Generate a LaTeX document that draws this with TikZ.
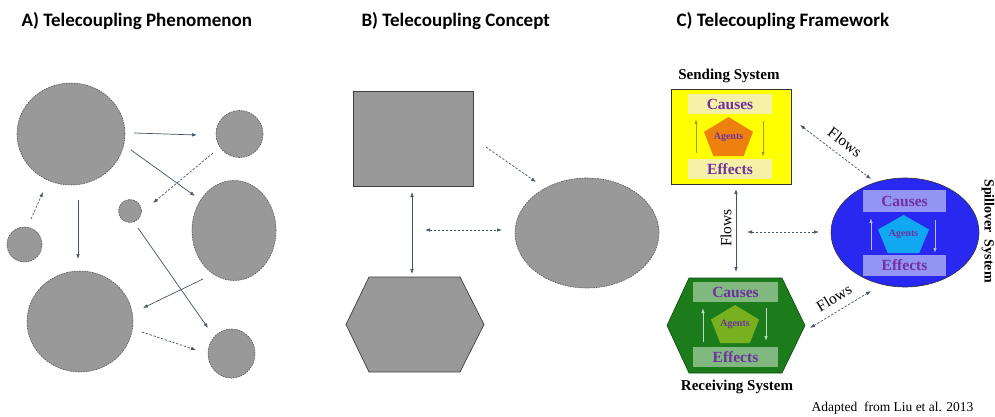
\documentclass[tikz,border=0pt]{standalone}
\usepackage{fontspec}
\setmainfont{Liberation Serif}
\newfontfamily\titlefont{Carlito}
\usetikzlibrary{arrows.meta,shapes.geometric}

\definecolor{blobgray}{HTML}{999999}
\definecolor{blobedge}{HTML}{555555}
\definecolor{linkcol}{HTML}{44546A}
\definecolor{purp}{HTML}{7030A0}
\definecolor{sendfill}{HTML}{FFFF00}
\definecolor{sendbar}{HTML}{F4F0A6}
\definecolor{sendpent}{HTML}{EE8010}
\definecolor{sendarr}{HTML}{9C9C40}
\definecolor{spillfill}{HTML}{2828F0}
\definecolor{spillbar}{HTML}{9494F4}
\definecolor{spillpent}{HTML}{10A8F0}
\definecolor{spillarr}{HTML}{B8B8FF}
\definecolor{recvfill}{HTML}{1C7C1C}
\definecolor{recvedge}{HTML}{0E4A0E}
\definecolor{recvbar}{HTML}{80B880}
\definecolor{recvpent}{HTML}{78B020}
\definecolor{recvarr}{HTML}{B8E0B8}

% pentagon squeezed into a box: centre x, top y, width, height
\newcommand\pentabox[5]{%
  \fill[#5] (#1,#2) -- ++(0.5*#3,0.382*#4) -- ++(-0.191*#3,0.618*#4)
    -- ++(-0.618*#3,0) -- ++(-0.191*#3,-0.618*#4) -- cycle;}

\begin{document}
\begin{tikzpicture}[x=1pt,y=-1pt,
  blob/.style={ellipse, fill=blobgray, draw=blobedge, line width=0.6pt,
    dash pattern=on 1.6pt off 1pt, inner sep=0pt},
  solidshape/.style={fill=blobgray, draw=black!75, line width=0.7pt},
  link/.style={draw=linkcol, line width=0.7pt, -{Latex[length=5pt,width=3.6pt]}},
  dlink/.style={link, dash pattern=on 2.4pt off 1.6pt},
  flow/.style={draw=linkcol, line width=0.7pt,
    {Latex[length=5pt,width=3.6pt]}-{Latex[length=5pt,width=3.6pt]}},
  dflow/.style={flow, dash pattern=on 2.4pt off 1.6pt},
  title/.style={anchor=base west, font=\titlefont\bfseries\fontsize{19}{22}\selectfont},
  syslabel/.style={font=\bfseries\fontsize{15}{17}\selectfont},
  bar/.style={minimum width=84pt, minimum height=20pt, inner sep=0pt,
    text=purp, font=\bfseries\fontsize{15.5}{17}\selectfont},
  agent/.style={text=purp, font=\bfseries\fontsize{10}{12}\selectfont},
  inarrow/.style={line width=0.9pt, -{Latex[length=5pt,width=3.4pt]}},
  flowlabel/.style={font=\fontsize{15.5}{17}\selectfont, inner sep=0pt}
]
\useasboundingbox (0,0) rectangle (995,417);

% ---------- titles ----------
\node[title] (ta) at (18,27) {A) Telecoupling Phenomenon};
\node[title] (tb) at (358,27) {B) Telecoupling Concept};
\node[title] (tc) at (673,27) {C) Telecoupling Framework};

% ---------- A: scattered systems ----------
\node[blob, minimum width=108pt, minimum height=102pt] (a1) at (71,134) {};
\node[blob, minimum width=47pt, minimum height=47pt] (a2) at (239.5,134) {};
\node[blob, minimum width=84pt, minimum height=100pt] (a3) at (234,230.5) {};
\node[blob, minimum width=23pt, minimum height=23pt] (a4) at (130,211) {};
\node[blob, minimum width=35pt, minimum height=35pt] (a5) at (24.5,244.5) {};
\node[blob, minimum width=106pt, minimum height=101pt] (a6) at (80,321.5) {};
\node[blob, minimum width=47pt, minimum height=49pt] (a7) at (231.5,353.5) {};

\coordinate (s1) at (134,133);   \coordinate (e1) at (197,135);
\coordinate (s2) at (131,150);   \coordinate (e2) at (195,196);
\coordinate (s3) at (213,153);   \coordinate (e3) at (153,203);
\coordinate (s4) at (31,219);    \coordinate (e4) at (43,192);
\coordinate (s5) at (78,200);    \coordinate (e5) at (78,259);
\coordinate (s6) at (138,228);   \coordinate (e6) at (208,328);
\coordinate (s7) at (203,279);   \coordinate (e7) at (143,308);
\coordinate (s8) at (142,332);   \coordinate (e8) at (196,350);

\draw[link]  (s1) -- (e1);
\draw[link]  (s2) -- (e2);
\draw[dlink] (s3) -- (e3);
\draw[dlink] (s4) -- (e4);
\draw[link]  (s5) -- (e5);
\draw[link]  (s6) -- (e6);
\draw[link]  (s7) -- (e7);
\draw[dlink] (s8) -- (e8);

% ---------- B: concept ----------
\node[solidshape, rectangle, minimum width=120pt, minimum height=95pt, inner sep=0pt] (bsend) at (413,138.5) {};
\draw[solidshape] (346,324.5) -- (369,277) -- (460,277) -- (484,324.5) -- (460,372) -- (369,372) -- cycle;
\coordinate (brecv) at (412,277);
\node[blob, minimum width=144pt, minimum height=110pt] (bspill) at (587,233) {};

\coordinate (bv1) at (412,192);  \coordinate (bv2) at (412,274);
\coordinate (bh1) at (425,230);  \coordinate (bh2) at (502,230);
\coordinate (bd1) at (486,147);  \coordinate (bd2) at (536,182);
\draw[flow]  (bv1) -- (bv2);
\draw[dflow] (bh1) -- (bh2);
\draw[dlink] (bd1) -- (bd2);

% ---------- C: framework ----------
% sending system
\node[syslabel] (sendlbl) at (729,76) {Sending System};
\node[rectangle, fill=sendfill, draw=black!80, line width=0.6pt,
  minimum width=120pt, minimum height=95pt, inner sep=0pt] (send) at (731,136.5) {};
\node[bar, fill=sendbar] (sendc) at (730,104) {Causes};
\node[bar, fill=sendbar] (sende) at (730,169) {Effects};
\pentabox{728.5}{117}{49}{39}{sendpent}
\node[agent] (senda) at (728.5,137.5) {Agents};
\coordinate (su1) at (696,153); \coordinate (su2) at (696,119);
\coordinate (sd1) at (763,121); \coordinate (sd2) at (763,157);
\draw[inarrow, sendarr] (su1) -- (su2);
\draw[inarrow, sendarr] (sd1) -- (sd2);

% spillover system
\node[ellipse, fill=spillfill, draw=black!80, line width=0.6pt,
  minimum width=148pt, minimum height=109pt, inner sep=0pt] (spill) at (905,232.5) {};
\node[bar, fill=spillbar, minimum width=83pt, minimum height=22pt] (spillc) at (904.5,201) {Causes};
\node[bar, fill=spillbar, minimum width=83pt, minimum height=21pt] (spille) at (904.5,265.5) {Effects};
\pentabox{903.5}{215}{51}{38}{spillpent}
\node[agent] (spilla) at (903.5,234.5) {Agents};
\coordinate (pu1) at (871,250); \coordinate (pu2) at (871,218);
\coordinate (pd1) at (935,220); \coordinate (pd2) at (935,253);
\draw[inarrow, spillarr] (pu1) -- (pu2);
\draw[inarrow, spillarr] (pd1) -- (pd2);
\node[syslabel, rotate=-90, font=\bfseries\fontsize{14}{16}\selectfont] (spilllbl) at (988,231) {Spillover\ \ System};

% receiving system
\draw[fill=recvfill, draw=recvedge, line width=0.6pt]
  (667,325.5) -- (689,278) -- (782,278) -- (805,325.5) -- (782,373) -- (689,373) -- cycle;
\node[bar, fill=recvbar, minimum width=85pt] (recvc) at (735.5,292) {Causes};
\node[bar, fill=recvbar, minimum width=85pt] (recve) at (735.5,357) {Effects};
\pentabox{735}{305}{48}{38}{recvpent}
\node[agent] (recva) at (735,324.5) {Agents};
\coordinate (ru1) at (703,342); \coordinate (ru2) at (703,308);
\coordinate (rd1) at (766,308); \coordinate (rd2) at (766,341);
\draw[inarrow, recvarr] (ru1) -- (ru2);
\draw[inarrow, recvarr] (rd1) -- (rd2);
\node[syslabel] (recvlbl) at (737,387) {Receiving System};

% flows between the systems
\coordinate (f1a) at (800,125); \coordinate (f1b) at (871,179);
\coordinate (f2a) at (736,189); \coordinate (f2b) at (736,272);
\coordinate (f3a) at (747,232); \coordinate (f3b) at (819,232);
\coordinate (f4a) at (810,328); \coordinate (f4b) at (871,291);
\draw[dflow] (f1a) -- (f1b);
\draw[flow]  (f2a) -- (f2b);
\draw[dflow] (f3a) -- (f3b);
\draw[dflow] (f4a) -- (f4b);
\node[flowlabel, rotate=-37] (fl1) at (845,142) {Flows};
\node[flowlabel, rotate=90]  (fl2) at (726,228) {Flows};
\node[flowlabel, rotate=31]  (fl3) at (834,298) {Flows};

\node[anchor=base east, font=\fontsize{13.5}{15}\selectfont] (credit) at (977,411) {Adapted\ \ from Liu et al. 2013};
\end{tikzpicture}
\end{document}
